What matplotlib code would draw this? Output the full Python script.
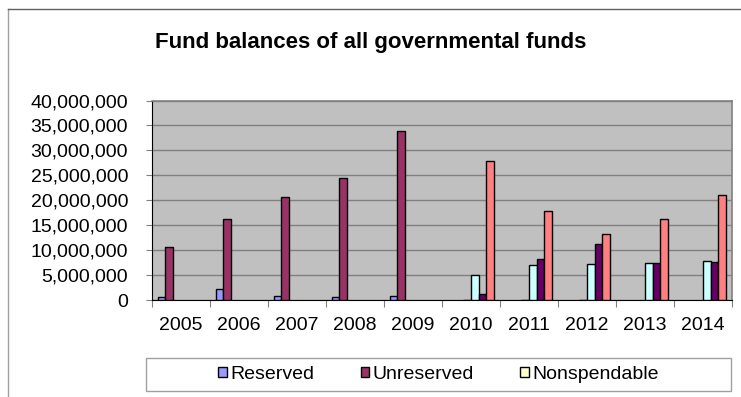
import numpy as np
import matplotlib
matplotlib.use("Agg")
import matplotlib.pyplot as plt
from matplotlib.ticker import StrMethodFormatter, MultipleLocator
from matplotlib.lines import Line2D
from matplotlib.patches import Rectangle, Patch

plt.rcParams['font.family'] = ['Liberation Sans', 'DejaVu Sans']

## Data ##

years = ['2005', '2006', '2007', '2008', '2009', '2010', '2011', '2012', '2013', '2014']
nan = np.nan

reserved     = [700000, 2200000, 950000, 650000, 800000, nan, nan, nan, nan, nan]
unreserved   = [10600000, 16200000, 20700000, 24400000, 33900000, nan, nan, nan, nan, nan]
nonspendable = [nan, nan, nan, nan, nan, 60000, 60000, 60000, nan, nan]
restricted   = [nan, nan, nan, nan, nan, 5150000, 7050000, 7350000, 7550000, 7950000]
assigned     = [nan, nan, nan, nan, nan, 1200000, 8350000, 11200000, 7550000, 7600000]
unassigned   = [nan, nan, nan, nan, nan, 27800000, 17900000, 13300000, 16300000, 21050000]

series_names = ['Reserved', 'Unreserved', 'Nonspendable', 'Restricted', 'Assigned', 'Unassigned']
series_vals = [reserved, unreserved, nonspendable, restricted, assigned, unassigned]
colours = ['#9999FF', '#993366', '#FFFFCC', '#CCFFFF', '#660066', '#FF8080']

## Figure ##

fig = plt.figure(figsize=(7.41, 3.97), dpi=100)
W, H = 741, 397

ax = fig.add_axes([151.7 / W, (H - 300.3) / H, (732 - 151.7) / W, (300.3 - 100.5) / H])
ax.set_facecolor('#C0C0C0')

x = np.arange(len(years))
nser = len(series_vals)
bw = 1.0 / (nser + 1.5)          # Excel style gap width 150%

for i in range(nser):
    ax.bar(x + (i - (nser - 1) / 2) * bw, series_vals[i], width=bw,
           color=colours[i], edgecolor='black', linewidth=1.0, zorder=3)

ax.set_xlim(-0.5, len(years) - 0.5)
ax.set_ylim(0, 40000000)
ax.yaxis.set_major_locator(MultipleLocator(5000000))
ax.yaxis.set_major_formatter(StrMethodFormatter('{x:,.0f}'))
ax.grid(axis='y', color='#808080', linewidth=1.0, zorder=1)

ax.set_xticks(x)
ax.set_xticklabels(years)
ax.set_xticks(np.arange(len(years) + 1) - 0.5, minor=True)
ax.tick_params(axis='x', which='major', length=0, pad=12, labelsize=14)
ax.tick_params(axis='x', which='minor', length=5, width=0.8, color='#808080')
ax.tick_params(axis='y', length=4, width=0.8, color='#808080', pad=13, labelsize=14)

for s in ['top', 'right']:
    ax.spines[s].set_color('#808080')
    ax.spines[s].set_linewidth(1.2)
ax.spines['left'].set_color('#000000')
ax.spines['bottom'].set_color('#000000')

## Title ##
fig.text(0.5, (H - 48) / H, 'Fund balances of all governmental funds',
         ha='center', va='baseline', fontsize=16, fontweight='bold')

## Chart area border ##
fig.add_artist(Line2D([8 / W, 8 / W], [0, (H - 9) / H], color='#A0A0A0', linewidth=1.0))
fig.add_artist(Line2D([8 / W, 1], [(H - 9) / H, (H - 9) / H], color='#606060', linewidth=1.0))

## Legend box (only first three entries visible) ##
fig.add_artist(Rectangle((146 / W, (H - 391) / H), (731 - 146) / W, 33 / H,
                         transform=fig.transFigure, facecolor='white',
                         edgecolor='#A0A0A0', linewidth=1.0))
handles = [Patch(facecolor=colours[i], edgecolor='black', linewidth=1.0) for i in range(3)]
fig.legend(handles, series_names[:3], loc='center', ncol=3,
           bbox_to_anchor=(438.5 / W, (H - 374.5) / H), frameon=False,
           fontsize=14, handlelength=0.45, handleheight=0.45,
           handletextpad=0.15, columnspacing=2.4)

fig.savefig('out.png', dpi=100)
